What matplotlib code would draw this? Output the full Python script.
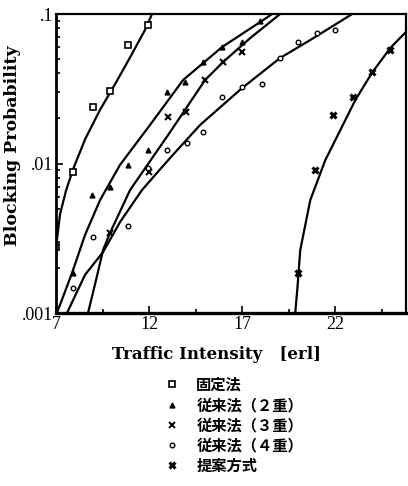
import numpy as np
import matplotlib
matplotlib.use("Agg")
from matplotlib import pyplot as plt
from matplotlib.lines import Line2D

# ---- data ----
# curves (analysis)
fix_x = [7.0, 7.22, 7.54, 7.91, 8.56, 9.37, 10.17, 10.98, 11.78, 12.16]
fix_y = [0.00275, 0.0046, 0.0066, 0.0091, 0.0145, 0.0229, 0.0339, 0.0513, 0.0782, 0.1]

c2_x = [7.05, 7.86, 8.56, 9.37, 10.44, 12.05, 13.83, 15.92, 17.97, 18.61]
c2_y = [0.001, 0.00185, 0.00333, 0.0057, 0.0098, 0.0181, 0.0362, 0.0601, 0.0884, 0.1]

c3_x = [8.72, 9.15, 9.53, 9.90, 10.98, 13.02, 15.01, 15.98, 17.43, 19.04]
c3_y = [0.001, 0.00166, 0.00264, 0.00343, 0.00665, 0.0155, 0.0362, 0.0478, 0.069, 0.1]

c4_x = [7.59, 8.56, 9.53, 10.44, 11.62, 13.13, 14.74, 17.0, 19.04, 20.66, 22.91]
c4_y = [0.001, 0.0018, 0.00256, 0.00406, 0.00665, 0.0109, 0.0181, 0.032, 0.0508, 0.067, 0.1]

pr_x = [19.85, 19.96, 20.12, 20.66, 21.46, 23.08, 24.0, 24.96, 25.8]
pr_y = [0.001, 0.00143, 0.00264, 0.0057, 0.0105, 0.0266, 0.0409, 0.0593, 0.0759]

# simulation points
fix_px = [7.0, 7.91, 8.99, 9.90, 10.87, 11.95]
fix_py = [0.00276, 0.00877, 0.0239, 0.0306, 0.0621, 0.0844]

s2_px = [7.91, 8.94, 9.90, 10.87, 11.95, 12.97, 13.94, 14.91, 15.92, 17.0, 17.97]
s2_py = [0.00185, 0.00615, 0.00697, 0.00977, 0.0123, 0.0301, 0.0351, 0.0478, 0.0601, 0.065, 0.0898]

s3_px = [9.90, 12.0, 13.02, 13.99, 15.01, 15.98, 17.0]
s3_py = [0.00343, 0.00877, 0.0205, 0.0221, 0.0362, 0.0478, 0.0557]

s4_px = [7.91, 8.99, 10.87, 11.95, 12.97, 14.04, 14.9, 15.92, 17.0, 18.08, 19.04, 20.01, 21.03, 22.0]
s4_py = [0.00147, 0.00322, 0.00382, 0.00933, 0.0123, 0.0137, 0.0163, 0.0279, 0.0325, 0.034,
         0.0508, 0.065, 0.0746, 0.0782]

pr_px = [20.01, 20.92, 21.89, 22.97, 23.99, 24.96]
pr_py = [0.00185, 0.00906, 0.0211, 0.0279, 0.0409, 0.0574]

labels = ["固定法", "従来法（２重）", "従来法（３重）", "従来法（４重）", "提案方式"]
xticks = [7, 12, 17, 22]

fig = plt.figure(figsize=(4.08, 4.86), dpi=100)
ax = fig.add_axes([56 / 408, 1 - 313 / 486, 350 / 408, 299 / 486])

lw = 1.6
for xs, ys in [(fix_x, fix_y), (c2_x, c2_y), (c3_x, c3_y), (c4_x, c4_y), (pr_x, pr_y)]:
    ax.plot(xs, ys, color="black", lw=lw, solid_capstyle="butt", solid_joinstyle="round")

ax.plot(fix_px, fix_py, "s", ms=4.5, mfc="white", mec="black", mew=1.2, ls="none")
ax.plot(s2_px, s2_py, "^", ms=3.5, color="black", ls="none")
ax.plot(s3_px, s3_py, "x", ms=4.5, color="black", mew=1.5, ls="none")
ax.plot(s4_px, s4_py, "o", ms=3.3, mfc="white", mec="black", mew=1.0, ls="none")
ax.plot(pr_px, pr_py, "x", ms=4.5, color="black", mew=2.2, ls="none")

ax.set_yscale("log")
ax.set_xlim(7, 25.8)
ax.set_ylim(0.001, 0.1)
ax.set_xticks(xticks)
ax.set_xticks([9.5, 14.5, 19.5, 24.5], minor=True)
ax.set_xticklabels([str(t) for t in xticks])
ax.set_yticks([0.001, 0.01, 0.1])
ax.set_yticklabels([".001", ".01", ".1"])
ax.yaxis.set_minor_formatter(matplotlib.ticker.NullFormatter())

serif = "Liberation Serif"
for lab in ax.get_xticklabels() + ax.get_yticklabels():
    lab.set_family(serif)
    lab.set_fontsize(13)
ax.tick_params(which="both", direction="in", top=False, right=False, width=1.2)
ax.tick_params(which="major", length=5, pad=2)
ax.tick_params(which="minor", length=3)
for s in ax.spines.values():
    s.set_linewidth(1.6)
ax.spines["left"].set_linewidth(2.0)
ax.spines["bottom"].set_linewidth(2.4)

fig.text(216 / 408, 1 - 354 / 486, "Traffic Intensity   [erl]", family="DejaVu Serif",
         fontsize=12, fontweight="bold", ha="center", va="center")
fig.text(13 / 408, 1 - 146 / 486, "Blocking Probability", family="DejaVu Serif",
         fontsize=12.5, fontweight="bold", ha="center", va="center", rotation=90)

handles = [
    Line2D([], [], marker="s", ms=4, mfc="white", mec="black", mew=1.2, ls="none"),
    Line2D([], [], marker="^", ms=3.5, color="black", ls="none"),
    Line2D([], [], marker="x", ms=4, color="black", mew=1.4, ls="none"),
    Line2D([], [], marker="o", ms=3.3, mfc="white", mec="black", mew=1.0, ls="none"),
    Line2D([], [], marker="x", ms=4, color="black", mew=2.2, ls="none"),
]
fig.legend(handles, labels, loc="upper left", bbox_to_anchor=(152 / 408, 1 - 366 / 486),
           frameon=False, handlelength=1.2, handletextpad=1.0, labelspacing=0.28,
           borderpad=0.2,
           prop={"family": ["Noto Sans CJK JP", "DejaVu Sans"], "size": 11, "weight": "bold"})

fig.savefig("out.png", dpi=100)
